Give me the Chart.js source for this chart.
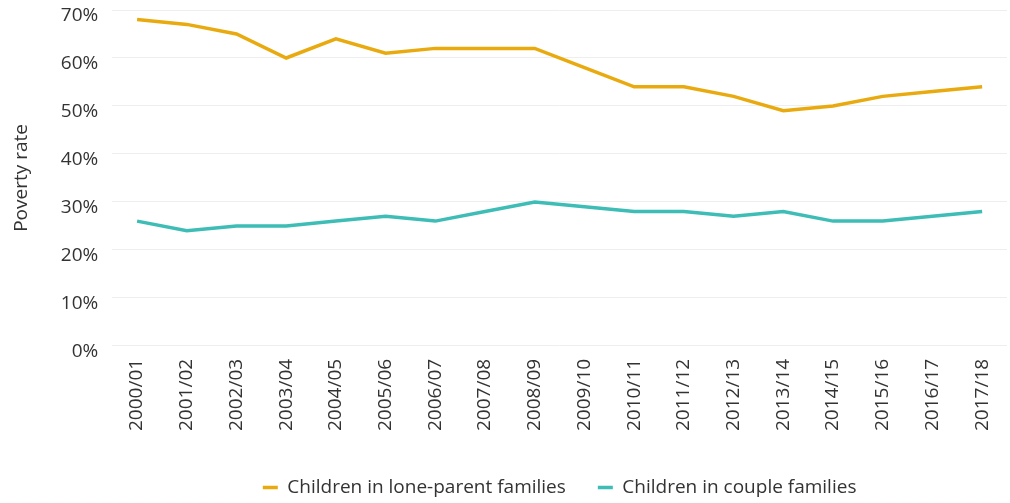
<!DOCTYPE html>
<html>
<head>
<meta charset="utf-8">
<script src="https://cdn.jsdelivr.net/npm/chart.js@4/dist/chart.umd.min.js"></script>
<style>
  body { margin: 0; background: #fff; }
  #wrap { width: 1010px; height: 503px; position: relative; }
</style>
</head>
<body>
<div id="wrap"><canvas id="povertyChart"></canvas></div>
<script>
const years = ["2000/01", "2001/02", "2002/03", "2003/04", "2004/05", "2005/06", "2006/07", "2007/08", "2008/09",
  "2009/10", "2010/11", "2011/12", "2012/13", "2013/14", "2014/15", "2015/16", "2016/17", "2017/18"];
const loneParent = [68, 67, 65, 60, 64, 61, 62, 62, 62, 58, 54, 54, 52, 49, 50, 52, 53, 54];
const couple = [26, 24, 25, 25, 26, 27, 26, 28, 30, 29, 28, 28, 27, 28, 26, 26, 27, 28];

const fontFamily = "'Open Sans', 'Noto Sans', sans-serif";
const textColor = "#333";

const ctx = document.getElementById("povertyChart").getContext("2d");

new Chart(ctx, {
  type: "line",
  data: {
    labels: years,
    datasets: [
      {
        label: "Children in lone-parent families",
        data: loneParent,
        borderColor: "#E9AA0F",
        backgroundColor: "#E9AA0F",
        borderWidth: 3.5,
        pointRadius: 0,
        tension: 0,
      },
      {
        label: "Children in couple families",
        data: couple,
        borderColor: "#3DBDB6",
        backgroundColor: "#3DBDB6",
        borderWidth: 3.5,
        pointRadius: 0,
        tension: 0,
      },
    ],
  },
  options: {
    responsive: true,
    maintainAspectRatio: false,
    animation: false,
    layout: { padding: { top: 10, right: 2, bottom: -4, left: 6 } },
    plugins: {
      legend: {
        position: "bottom",
        fullSize: false, // centre under the plot area, not the whole canvas
        labels: {
          usePointStyle: true,
          pointStyle: "line",
          pointStyleWidth: 15,
          color: textColor,
          padding: 32,
          font: { family: fontFamily, size: 19 },
        },
      },
      tooltip: { enabled: false },
    },
    scales: {
      x: {
        offset: true,
        grid: { display: false },
        border: { display: false },
        ticks: {
          color: textColor,
          minRotation: 90,
          maxRotation: 90,
          padding: 5,
          font: { family: fontFamily, size: 19 },
        },
        afterFit: (scale) => {
          scale.height += 10;
        },
      },
      y: {
        min: 0,
        max: 70,
        border: { display: false },
        grid: { color: "#eeeeee", drawTicks: false },
        title: {
          display: true,
          text: "Poverty rate",
          color: textColor,
          padding: { top: 4, bottom: 14 },
          font: { family: fontFamily, size: 19 },
        },
        ticks: {
          stepSize: 10,
          color: textColor,
          padding: 14,
          labelOffset: 6,
          font: { family: fontFamily, size: 19 },
          callback: (value) => `${value}%`,
        },
        // labels sit below their gridlines, so no room is needed above the top one
        afterFit: (scale) => {
          scale.paddingTop = 0;
        },
      },
    },
  },
});
</script>
</body>
</html>
